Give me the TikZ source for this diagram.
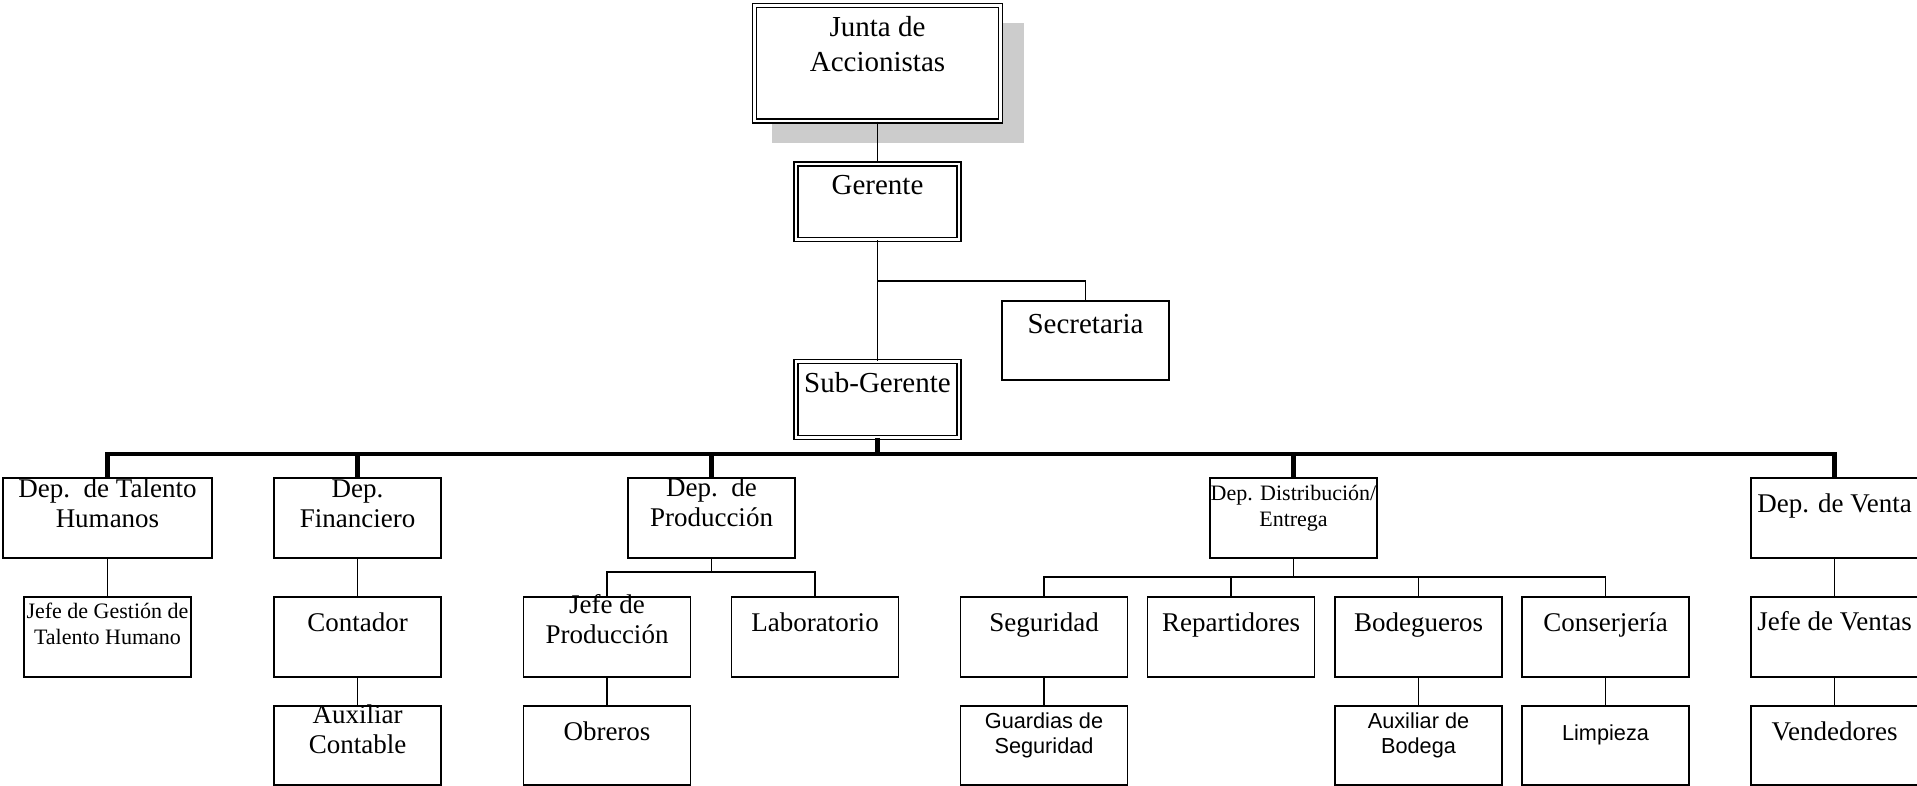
\documentclass[tikz,border=0pt]{standalone}
\usepackage{fontspec}
\setmainfont{Liberation Serif}
\newfontfamily\sansf{Liberation Sans}
\begin{document}
\begin{tikzpicture}[x=1pt,y=-1pt,
  obox/.style={draw, line width=1.6pt, fill=white, inner sep=0pt, minimum width=167pt, minimum height=80pt},
  dbox/.style={draw, line width=1.3pt, double=white, double distance=2.8pt, fill=white, inner sep=0pt, minimum width=163pt, minimum height=75.5pt},
  conn/.style={line width=1.8pt},
  bus/.style={line width=4.6pt},
  tA/.style={anchor=base, align=center, inner sep=0pt, font=\fontsize{29}{35}\selectfont},
  tB/.style={anchor=base, align=center, inner sep=0pt, font=\fontsize{27}{30}\selectfont},
  tC/.style={anchor=base, align=center, inner sep=0pt, font=\fontsize{22}{25.5}\selectfont},
  tS/.style={anchor=base, align=center, inner sep=0pt, font=\sansf\fontsize{21.7}{25}\selectfont},
]
\useasboundingbox (0,0) rectangle (1917,786);
% shadow
\fill[gray!40] (772,23) rectangle (1024,143);
% top level
\node[dbox, minimum width=246pt, minimum height=115.5pt] (junta) at (877.5,63.25) {};
\node[dbox] (ger) at (877.5,201.75) {};
\node[dbox] (sub) at (877.5,399.5) {};
\node[obox, minimum height=79pt] (sec) at (1085.5,340.5) {};
% level 2
\node[obox, minimum width=209pt] (tal) at (107.5,518) {};
\node[obox] (fin) at (357.5,518) {};
\node[obox] (prod) at (711.5,518) {};
\node[obox] (dist) at (1293.5,518) {};
\node[obox] (venta) at (1834.5,518) {};
% level 3
\node[obox] (jgest) at (107.5,637) {};
\node[obox] (cont) at (357.5,637) {};
\node[obox] (jprod) at (607,637) {};
\node[obox] (lab) at (815,637) {};
\node[obox] (seg) at (1044,637) {};
\node[obox] (rep) at (1231,637) {};
\node[obox] (bod) at (1418.5,637) {};
\node[obox] (cons) at (1605.5,637) {};
\node[obox] (jvent) at (1834.5,637) {};
% level 4
\node[obox, minimum height=79pt] (aux) at (357.5,745.5) {};
\node[obox, minimum height=79pt] (obr) at (607,745.5) {};
\node[obox, minimum height=79pt] (guard) at (1044,745.5) {};
\node[obox, minimum height=79pt] (auxb) at (1418.5,745.5) {};
\node[obox, minimum height=79pt] (limp) at (1605.5,745.5) {};
\node[obox, minimum height=79pt] (vend) at (1834.5,745.5) {};
% connectors
\coordinate (gs) at (877.5,281);
\coordinate (busc) at (877.5,454);
\coordinate (pb) at (711.5,572);
\coordinate (db) at (1293.5,577);
\draw[conn] (junta.south) -- (ger.north);
\draw[conn] (ger.south) -- (sub.north);
\draw[conn] (gs) -| (sec.north);
\draw[bus] (sub.south) -- (busc);
\draw[bus] (tal.north) |- (busc) -| (venta.north);
\draw[bus] (busc -| fin.north) -- (fin.north);
\draw[bus] (busc -| prod.north) -- (prod.north);
\draw[bus] (busc -| dist.north) -- (dist.north);
\draw[conn] (tal.south) -- (jgest.north);
\draw[conn] (fin.south) -- (cont.north);
\draw[conn] (cont.south) -- (aux.north);
\draw[conn] (prod.south) -- (pb);
\draw[conn] (jprod.north) |- (pb) -| (lab.north);
\draw[conn] (jprod.south) -- (obr.north);
\draw[conn] (dist.south) -- (db);
\draw[conn] (seg.north) |- (db) -| (cons.north);
\draw[conn] (rep.north) -- (rep.north |- db);
\draw[conn] (bod.north) -- (bod.north |- db);
\draw[conn] (seg.south) -- (guard.north);
\draw[conn] (bod.south) -- (auxb.north);
\draw[conn] (cons.south) -- (limp.north);
\draw[conn] (venta.south) -- (jvent.north);
\draw[conn] (jvent.south) -- (vend.north);
% texts (anchor base = baseline of last line)
\node[tA] (t-junta) at ([yshift=-66.5pt]junta.north) {Junta de\\Accionistas};
\node[tA] (t-ger) at ([yshift=-31pt]ger.north) {Gerente};
\node[tA] (t-sub) at ([yshift=-31pt]sub.north) {Sub-Gerente};
\node[tA] (t-sec) at ([yshift=-33pt]sec.north) {Secretaria};
\node[tB] (t-tal) at ([yshift=-50pt]tal.north) {Dep.~\ de Talento\\Humanos};
\node[tB] (t-fin) at ([yshift=-50pt]fin.north) {Dep.\\Financiero};
\node[tB] (t-prod) at ([yshift=-49pt]prod.north) {Dep.~\ de\\Producción};
\node[tC] (t-dist) at ([yshift=-49pt]dist.north) {Dep. Distribución/\\Entrega};
\node[tB] (t-venta) at ([yshift=-35pt]venta.north) {Dep. de Venta};
\node[tC] (t-jgest) at ([yshift=-48pt]jgest.north) {Jefe de Gestión de\\Talento Humano};
\node[tB] (t-cont) at ([yshift=-35pt]cont.north) {Contador};
\node[tB] (t-jprod) at ([yshift=-47pt]jprod.north) {Jefe de\\Producción};
\node[tB] (t-lab) at ([yshift=-35pt]lab.north) {Laboratorio};
\node[tB] (t-seg) at ([yshift=-35pt]seg.north) {Seguridad};
\node[tB] (t-rep) at ([yshift=-35pt]rep.north) {Repartidores};
\node[tB] (t-bod) at ([yshift=-35pt]bod.north) {Bodegueros};
\node[tB] (t-cons) at ([yshift=-35pt]cons.north) {Conserjería};
\node[tB] (t-jvent) at ([yshift=-34pt]jvent.north) {Jefe de Ventas};
\node[tB] (t-aux) at ([yshift=-48pt]aux.north) {Auxiliar\\Contable};
\node[tB] (t-obr) at ([yshift=-35pt]obr.north) {Obreros};
\node[tS] (t-guard) at ([yshift=-48pt]guard.north) {Guardias de\\Seguridad};
\node[tS] (t-auxb) at ([yshift=-48pt]auxb.north) {Auxiliar de\\Bodega};
\node[tS] (t-limp) at ([yshift=-35pt]limp.north) {Limpieza};
\node[tB] (t-vend) at ([yshift=-35pt]vend.north) {Vendedores};
\end{tikzpicture}
\end{document}
